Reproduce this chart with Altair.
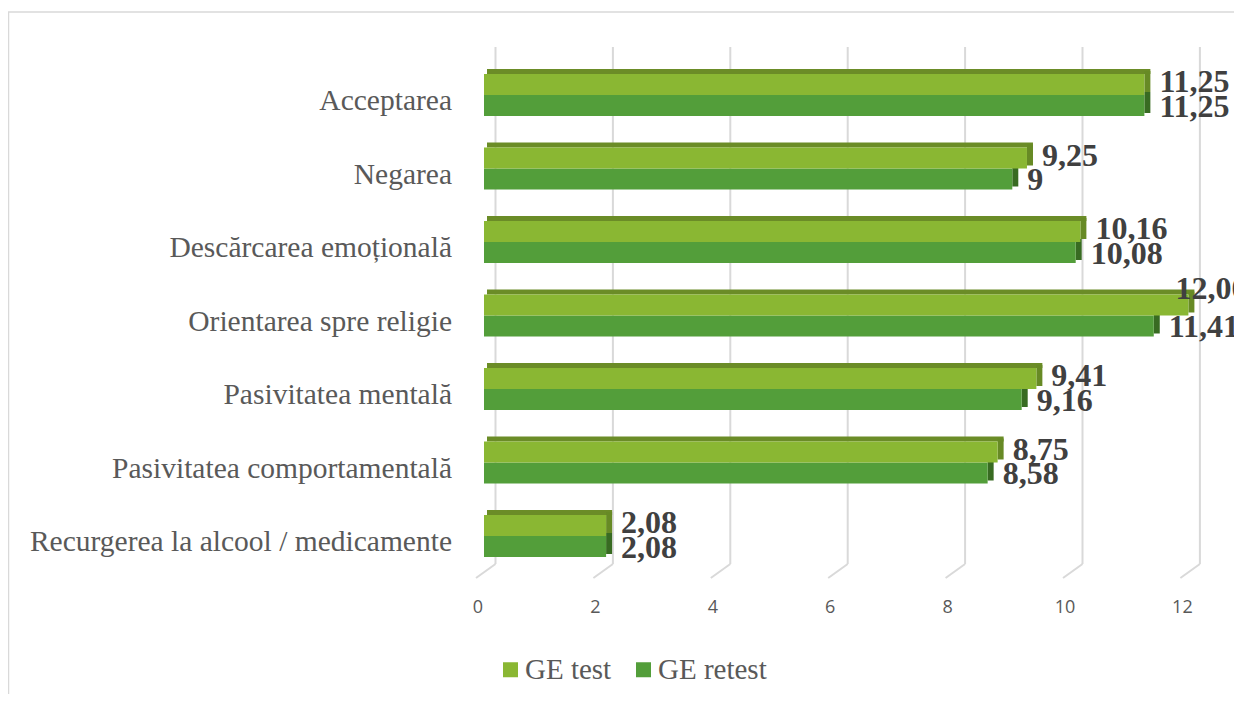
import altair as alt
import pandas as pd

categories = [
    "Acceptarea",
    "Negarea",
    "Descărcarea emoțională",
    "Orientarea spre religie",
    "Pasivitatea mentală",
    "Pasivitatea comportamentală",
    "Recurgerea la alcool / medicamente",
]
series_names = ["GE test", "GE retest"]
test_values = [11.25, 9.25, 10.16, 12.00, 9.41, 8.75, 2.08]
retest_values = [11.25, 9.0, 10.08, 11.41, 9.16, 8.58, 2.08]
test_labels = ["11,25", "9,25", "10,16", "12,00", "9,41", "8,75", "2,08"]
retest_labels = ["11,25", "9", "10,08", "11,41", "9,16", "8,58", "2,08"]
tick_values = [0, 2, 4, 6, 8, 10, 12]
tick_labels = ["0", "2", "4", "6", "8", "10", "12"]

C_TEST = "#8AB733"
C_RETEST = "#539E3A"
C_TOP = "#6B8C27"
C_TEST_SIDE = "#678A25"
C_RETEST_SIDE = "#386B22"
GRID = "#D9D9D9"
TXT = "#595959"
LBL = "#404040"

rows = []
for c, v, l in zip(categories, test_values, test_labels):
    rows.append({"category": c, "series": "GE test", "value": v, "label": l, "zero": 0})
for c, v, l in zip(categories, retest_values, retest_labels):
    rows.append({"category": c, "series": "GE retest", "value": v, "label": l, "zero": 0})
df = pd.DataFrame(rows)
ticks = pd.DataFrame({"t": tick_values, "lab": tick_labels})
one = pd.DataFrame({"a": [0]})

W, H = 1226, 686
xs = alt.Scale(domain=[0, 12], range=[476, 1180.4], nice=False, zero=False)
ys = alt.Scale(domain=categories, range=[50.25, 564.75], paddingInner=0, paddingOuter=0)
X = alt.X("value:Q", scale=xs, axis=None)
X2z = alt.X2("zero:Q")
Y = alt.Y("category:N", scale=ys, axis=None, sort=categories)

base = alt.Chart(df)
test = base.transform_filter(alt.datum.series == "GE test")
retest = base.transform_filter(alt.datum.series == "GE retest")

border_top = alt.Chart(one).mark_rule(color=GRID, strokeWidth=1.5).encode(
    x=alt.value(0), x2=alt.value(W), y=alt.value(4))
border_left = alt.Chart(one).mark_rule(color=GRID, strokeWidth=1.5).encode(
    x=alt.value(0.5), y=alt.value(4), y2=alt.value(H))

grid_v = alt.Chart(ticks).mark_rule(color=GRID, strokeWidth=2, xOffset=11.5).encode(
    x=alt.X("t:Q", scale=xs, axis=None), y=alt.value(39), y2=alt.value(556))
grid_d = alt.Chart(ticks).mark_rule(color=GRID, strokeWidth=2, xOffset=-8, x2Offset=11.5).encode(
    x=alt.X("t:Q", scale=xs, axis=None), x2="t:Q", y=alt.value(570), y2=alt.value(556))
tick_text = alt.Chart(ticks).mark_text(font="Open Sans", fontSize=18, color=TXT, dx=-6, baseline="middle").encode(
    x=alt.X("t:Q", scale=xs, axis=None), y=alt.value(600), text="lab:N")

cat_text = alt.Chart(pd.DataFrame({"category": categories})).mark_text(
    font="Liberation Serif", fontSize=29.5, color=TXT, align="right", baseline="middle", dy=6).encode(
    y=Y, x=alt.value(444), text="category:N")

color_enc = alt.Color("series:N", scale=alt.Scale(domain=series_names, range=[C_TEST, C_RETEST]),
                      legend=alt.Legend(orient="none", legendX=488, legendY=647, direction="horizontal",
                                        title=None, symbolType="square", symbolSize=225,
                                        symbolStrokeWidth=0, labelFont="Liberation Serif",
                                        labelFontSize=29, labelColor=TXT, columnPadding=17,
                                        labelOffset=0))

retest_side = retest.mark_bar(height=21, yOffset=7.5, x2Offset=6, color=C_RETEST_SIDE).encode(
    x=X, x2="value:Q", y=Y)
retest_front = retest.mark_bar(height=21, yOffset=10.5).encode(x=X, x2=X2z, y=Y, color=color_enc)
test_top = test.mark_bar(height=5, yOffset=-23.5, xOffset=6, x2Offset=3, color=C_TOP).encode(
    x=X, x2=X2z, y=Y)
test_side = test.mark_bar(height=21, yOffset=-13.5, x2Offset=6, color=C_TEST_SIDE).encode(
    x=X, x2="value:Q", y=Y)
test_front = test.mark_bar(height=21, yOffset=-10.5).encode(x=X, x2=X2z, y=Y, color=color_enc)

lab_props = dict(font="Liberation Serif", fontSize=32, fontWeight="bold", color=LBL,
                 align="left", baseline="middle")
test_lab = test.transform_filter(alt.datum.value < 12).mark_text(dx=15, dy=-13, **lab_props).encode(
    x=X, y=Y, text="label:N")
test_lab_hi = test.transform_filter(alt.datum.value >= 12).mark_text(dx=-13, dy=-27, **lab_props).encode(
    x=X, y=Y, text="label:N")
retest_lab = retest.mark_text(dx=15, dy=11.5, **lab_props).encode(x=X, y=Y, text="label:N")

chart = alt.layer(
    border_top, border_left, grid_v, grid_d, tick_text, cat_text,
    retest_side, retest_front, test_top, test_side, test_front,
    test_lab, test_lab_hi, retest_lab,
).properties(
    width=W, height=H, padding=0, autosize=alt.AutoSizeParams(type="none")
).configure(background="white").configure_view(stroke=None)

chart.save("out.html", embed_options={"renderer": "svg", "actions": False})
